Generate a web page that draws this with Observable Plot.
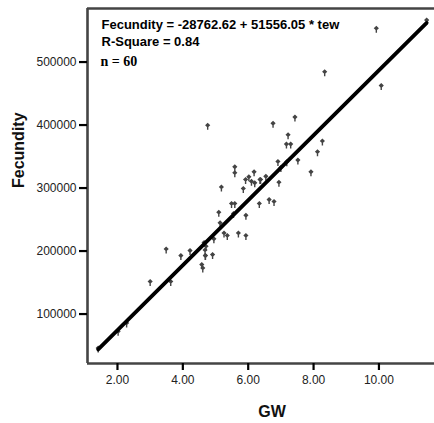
<!DOCTYPE html>
<html><head><meta charset="utf-8">
<script src="https://cdn.jsdelivr.net/npm/d3@7"></script>
<script src="https://cdn.jsdelivr.net/npm/@observablehq/plot@0.6"></script>
<style>body{margin:0;background:#fff} svg{display:block}</style>
</head><body><div id="chart"></div>
<script>
const gw = [1.41, 2.02, 2.28, 3.00, 3.63, 3.49, 3.94, 4.22, 4.58, 4.61,
            4.69, 4.91, 4.71, 4.65, 4.95, 5.26, 5.36, 5.70, 5.93, 5.14,
            5.10, 5.93, 5.49, 5.59, 6.34, 6.64, 6.79, 5.18, 5.85, 5.92,
            6.02, 6.20, 6.36, 6.54, 6.18, 6.94, 5.59, 5.59, 4.76, 6.76,
            6.91, 7.18, 7.52, 7.92, 7.22, 7.17, 7.30, 7.43, 8.12, 8.27,
            8.34, 9.92, 10.07, 11.46, 6.10, 5.55, 7.00, 4.68, 6.38, 4.69];
const fecundity = [44400, 70800, 84100, 150000, 150000, 201700, 191000, 199000, 176800, 171500,
            191000, 192700, 206000, 212000, 217600, 227000, 223000, 227000, 223000, 243000,
            260000, 255000, 273800, 273800, 273800, 280000, 277000, 300000, 297600, 312000,
            316000, 306700, 312000, 317000, 324000, 307600, 332000, 322600, 398000, 401000,
            340500, 340000, 342600, 324000, 383000, 368000, 368000, 411000, 356000, 373000,
            483000, 552000, 461000, 565000, 309000, 258000, 331000, 200000, 312000, 191000];
const xTicks = [2, 4, 6, 8, 10];
const yTicks = [100000, 200000, 300000, 400000, 500000];
const xDomain = [1.083, 11.70];
const yDomain = [21500, 585000];
const intercept = -28762.62, slope = 51556.05;
const equationText = "Fecundity = -28762.62 + 51556.05 * tew";
const rSquareText = "R-Square = 0.84";
const nText = "n = 60";
const xLabel = "GW", yLabel = "Fecundity";

const points = gw.map((g, i) => ({gw: g, fec: fecundity[i]}));
const [gMin, gMax] = d3.extent(gw);
const fitLine = [gMin, gMax].map(g => ({gw: g, fec: intercept + slope * g}));

const marker = {
  draw(ctx) {
    ctx.moveTo(0, -3.6);
    ctx.lineTo(2.6, -1.1);
    ctx.lineTo(0.7, 0.8);
    ctx.lineTo(0.7, 3.4);
    ctx.lineTo(-0.7, 3.4);
    ctx.lineTo(-0.7, 0.8);
    ctx.lineTo(-2.6, -1.1);
    ctx.closePath();
  }
};

const sans = "'Liberation Sans', Arial, sans-serif";
const serif = "'Liberation Serif', 'Times New Roman', serif";

const chart = Plot.plot({
  width: 434,
  height: 423,
  marginLeft: 87,
  marginRight: 0,
  marginTop: 8,
  marginBottom: 60,
  style: {fontFamily: sans, fontSize: "12px", color: "#222", background: "#fff"},
  x: {domain: xDomain},
  y: {domain: yDomain},
  marks: [
    Plot.dot(points, {x: "gw", y: "fec", symbol: marker, fill: "#444", stroke: "none"}),
    Plot.line(fitLine, {x: "gw", y: "fec", stroke: "#000", strokeWidth: 3.8, strokeLinecap: "round"}),
    Plot.ruleX([xDomain[0]], {stroke: "#444", strokeWidth: 2.6}),
    Plot.ruleY([yDomain[0], yDomain[1]], {stroke: "#444", strokeWidth: 2.6}),
    Plot.axisX(xTicks, {tickFormat: d3.format(".2f"), tickSize: 7, tickPadding: 5, stroke: "#000", strokeWidth: 2.2, label: null, fontSize: 12, fill: "#222"}),
    Plot.axisY(yTicks, {tickFormat: d => String(d), tickSize: 8, tickPadding: 3, stroke: "#000", strokeWidth: 2.2, label: null, fontSize: 12, fill: "#222"}),
    Plot.text([equationText], {frameAnchor: "top-left", dx: 14, dy: 20, lineAnchor: "bottom", textAnchor: "start", fontWeight: "bold", fontSize: 13, fill: "#000"}),
    Plot.text([rSquareText], {frameAnchor: "top-left", dx: 14, dy: 37, lineAnchor: "bottom", textAnchor: "start", fontWeight: "bold", fontSize: 13, fill: "#000"}),
    Plot.text([nText], {frameAnchor: "top-left", dx: 13, dy: 57, lineAnchor: "bottom", textAnchor: "start", fontWeight: "bold", fontSize: 14, fontFamily: serif, fill: "#000"}),
    Plot.text([xLabel], {frameAnchor: "bottom", dx: 11, dy: 53, lineAnchor: "bottom", fontWeight: "bold", fontSize: 16, fill: "#111"}),
    Plot.text([yLabel], {frameAnchor: "left", dx: -69, dy: 2, rotate: -90, fontWeight: "bold", fontSize: 16, fill: "#111"})
  ]
});
document.getElementById("chart").appendChild(chart);
</script>
</body></html>
